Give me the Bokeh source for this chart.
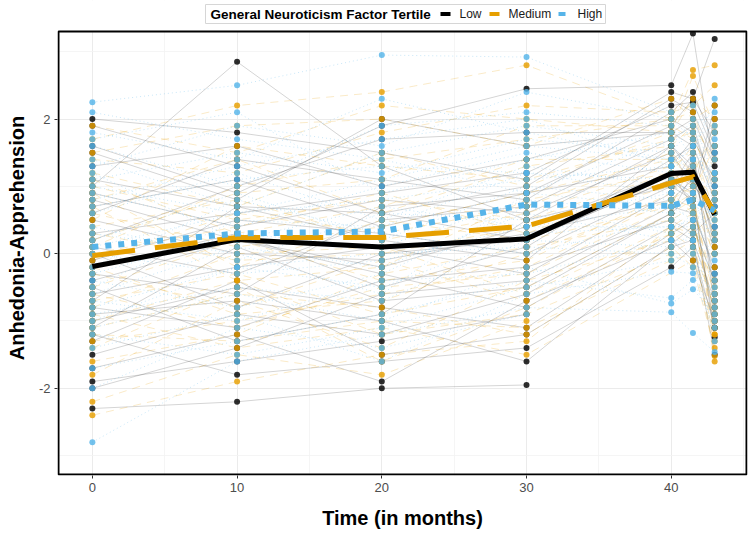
from bokeh.plotting import figure
from bokeh.models import FixedTicker, Range1d
from bokeh.core.properties import value
from bokeh.embed import file_html
from bokeh.resources import INLINE

# ---------------- data ----------------
times = [0, 10, 20, 30, 40, 41.5, 43]
tertiles = ["Low", "Medium", "High"]
legend_title = "General Neuroticism Factor Tertile"
x_label = "Time (in months)"
y_label = "Anhedonia-Apprehension"

# individual trajectories (one list per participant, values at `times`)
low_subjects = [
    [1.6, 0.9, 1.9, 2.45, 2.5, 3.27, 1.2],
    [-0.2, 0.3, -0.5, 0.1, 1.4, 1.6, -0.8],
    [0.7, 1.1, 0.4, 0.9, 1.9, 2.3, 3.19],
    [-1.5, -0.9, -1.2, -0.6, 0.6, 0.9, -1.24],
    [-2.3, -2.2, -2.0, -1.95, None, None, None],
    [1.0, 2.85, 1.3, 0.5, 1.6, 1.2, 0.4],
    [-0.6, -0.2, 0.1, -0.3, 0.9, 1.4, 0.1],
    [0.3, 0.6, 0.9, 1.2, 2.2, 2.25, 1.5],
    [-1.0, -0.5, -0.8, -1.1, 0.3, 0.5, -0.9],
    [1.9, 1.3, 0.6, 0.2, 1.1, 0.8, 2.0],
    [-1.9, -1.6, -1.3, -0.9, None, None, None],
    [0.1, -0.3, 0.5, 0.7, 1.7, 1.9, 0.9],
    [-0.4, 0.2, -0.2, 0.4, 1.2, 0.7, -0.3],
    [1.3, 1.6, 1.0, 1.4, 2.0, 1.8, 1.0],
    [-1.2, -1.8, -1.6, -1.4, -0.2, 0.1, -1.1],
    [0.5, 0.0, -0.1, 0.3, 0.8, 1.1, 0.3],
    [-0.8, -1.1, -0.4, -0.2, 0.5, 0.3, 0.6],
    [2.0, 1.8, 1.5, 1.1, 2.4, 2.3, 1.8],
    [-0.1, 0.5, 0.3, 0.0, 1.0, 1.5, -0.6],
    [-1.7, -1.2, -1.9, -0.7, 0.2, -0.1, -1.0],
    [0.9, 0.4, 0.8, 0.6, 1.5, 1.0, 0.7],
    [-0.9, -0.7, -1.0, -1.6, None, 0.4, -0.4],
    [0.2, 1.0, 1.7, 1.8, 1.8, 2.0, 1.3],
    [-2.0, -1.4, -0.6, -0.4, 0.7, 0.6, -0.2],
    [0.8, 0.2, -0.3, -0.8, 0.4, 0.2, -1.5],
    [-0.3, -0.6, 0.7, 0.9, 1.3, 1.7, 1.1],
    [1.1, 0.7, 0.2, -0.1, 1.6, 1.3, 0.2],
    [-1.3, -0.4, -1.5, -1.2, 0.1, 0.2, -0.7],
    [0.6, 1.4, 1.1, 0.8, 2.1, 2.4, 1.6],
    [-0.5, -1.3, -0.9, 0.5, 1.0, 0.8, -1.1],
    [1.5, 0.8, 2.0, 1.6, 1.8, 1.6, 0.8],
    [-1.1, 0.1, -0.7, -0.5, 0.6, 1.2, 0.0],
    [0.0, -0.8, 0.0, 0.2, 1.1, 0.9, 2.2],
    [-0.7, 0.7, 0.6, 1.0, 2.3, 2.1, 1.4],
]
medium_subjects = [
    [-2.4, -1.9, -1.5, -1.3, 0.4, 0.3, -1.6],
    [1.7, 2.2, 2.4, 2.8, 2.0, 2.73, 2.8],
    [0.4, 0.8, 0.2, 0.6, 1.3, 1.5, 0.5],
    [-0.7, -0.3, -0.9, -0.5, 0.6, 0.8, -0.7],
    [1.2, 0.7, 1.5, 1.0, 1.8, 2.64, 1.9],
    [-1.3, -1.0, -0.6, -0.2, 0.8, 1.0, -1.52],
    [0.0, 0.4, 0.9, 0.3, 1.1, 1.3, 0.2],
    [-2.2, -1.5, -1.8, -1.0, None, None, None],
    [0.8, 1.4, 0.6, 1.3, 1.6, 1.9, 1.4],
    [-0.3, -0.8, -0.1, -0.7, 0.3, 0.5, -0.9],
    [1.5, 1.9, 2.0, 1.6, 2.3, 2.0, 2.2],
    [-1.0, -0.4, -1.2, -0.9, 0.0, 0.2, -0.4],
    [0.6, 0.1, 0.4, 0.9, 1.4, 1.1, 0.9],
    [-1.6, -1.2, -0.3, 0.1, 0.5, 0.7, 0.0],
    [0.2, 0.9, 1.1, 1.9, 1.9, 1.7, 1.1],
    [-0.5, 0.2, -0.4, -0.1, 0.9, 0.6, -1.2],
    [1.0, 0.5, 0.8, 0.5, 1.2, 1.6, 0.6],
    [-0.9, -1.4, -1.1, -1.5, None, -0.1, -1.3],
    [0.3, -0.1, 0.0, 0.4, 1.0, 0.9, 1.6],
    [-1.8, -0.7, -1.4, -0.4, 0.2, 0.4, -0.6],
    [1.4, 1.2, 1.8, 2.2, 2.1, 2.2, 2.5],
    [-0.1, 0.6, 0.3, 0.7, 1.5, 1.2, 0.3],
    [0.9, -0.2, 0.5, 0.2, 0.7, 1.4, -0.2],
    [-1.1, -0.6, -0.8, -1.2, 0.1, -0.2, -1.4],
    [0.5, 1.6, 1.3, 1.1, 1.7, 1.8, 0.8],
    [-0.6, -1.1, -0.5, -0.3, 0.7, 0.9, -1.0],
    [1.1, 0.3, 0.7, 1.4, 1.4, 1.2, 1.8],
    [-1.4, -0.5, -1.6, -0.8, 0.3, 0.1, -0.8],
    [0.1, 1.0, 1.4, 1.7, 2.0, 2.1, 1.2],
    [-0.2, -0.9, -0.7, 0.0, 0.8, 0.7, -0.5],
    [1.9, 1.5, 2.2, 2.0, 1.8, 2.3, 2.0],
    [-0.8, 0.0, 0.1, -0.6, 0.4, 0.6, -1.1],
    [0.7, -0.4, -0.2, 0.8, 1.2, 1.0, 0.1],
    [-1.2, -1.3, -1.0, -1.1, -0.1, 0.0, -1.2],
]
high_subjects = [
    [2.25, 2.5, 2.95, 2.92, 2.1, 2.2, 1.7],
    [-2.8, -1.6, -1.2, -0.8, -0.87, -1.18, -1.46],
    [0.1, 0.6, 0.8, 1.1, 1.3, 1.6, 0.9],
    [1.1, 1.5, 1.2, 1.7, 1.5, 1.9, 2.1],
    [-0.8, -0.2, -0.5, 0.3, 0.4, 0.5, -0.5],
    [1.6, 1.0, 1.9, 2.1, 1.9, 1.4, 1.2],
    [-1.4, -0.9, -1.6, -0.6, -0.27, -0.29, -1.0],
    [0.6, 1.2, 0.5, 1.3, 1.0, 1.2, 0.4],
    [-0.3, 0.3, 0.1, 0.8, 0.6, 0.9, 1.4],
    [2.1, 1.7, 1.4, 0.9, 1.7, 1.0, 0.0],
    [-1.7, -1.3, -0.9, -0.4, -0.66, -0.39, -1.1],
    [0.4, -0.1, 0.6, 0.5, 0.9, 1.3, 0.6],
    [-0.6, 0.1, -0.2, 0.6, 0.2, 0.0, -0.7],
    [1.3, 1.9, 1.6, 2.4, 2.0, 1.7, 1.9],
    [-1.1, -0.6, -1.0, -0.2, -0.74, -0.53, -0.9],
    [0.9, 0.4, 1.0, 1.5, 1.2, 0.8, 0.2],
    [-0.2, 0.8, 0.3, 0.0, 0.5, 0.7, -0.3],
    [1.8, 1.4, 2.3, 1.8, 1.4, 1.5, 2.3],
    [-0.9, -0.5, -0.7, 0.2, 0.1, 0.3, 0.8],
    [0.2, 0.9, 0.2, 1.0, 0.8, 1.1, 1.0],
    [-2.0, -1.1, -1.4, -0.9, None, None, None],
    [1.2, 0.2, 0.7, 0.4, 0.7, 0.2, 1.5],
    [-0.4, -0.8, -0.3, 0.7, 0.3, 0.6, -0.1],
    [0.7, 1.1, 1.3, 1.2, 1.1, 0.9, 0.5],
    [0.0, -0.3, -0.1, 0.4, 0.4, 0.4, -0.4],
    [1.4, 0.7, 1.5, 1.9, 1.6, 2.0, 1.1],
    [-0.5, 0.5, 0.4, 1.2, 0.9, 1.2, 0.3],
    [-1.2, -1.5, -1.1, -0.5, -0.1, 0.1, -1.3],
    [0.8, 1.3, 1.7, 2.0, 1.3, 1.4, 1.6],
    [-1.0, -0.2, 0.0, 0.1, 0.0, -0.2, -0.6],
    [1.7, 2.1, 0.9, 1.4, 1.8, 1.8, 0.7],
    [0.3, 0.0, -0.6, 0.9, 0.7, 0.5, 1.2],
    [-0.7, -1.0, -0.4, -0.3, 0.2, 0.2, -0.8],
    [1.0, 0.6, 1.1, 1.6, 1.4, 1.6, 1.8],
]

# group mean trajectories
mean_low = [-0.19, 0.21, 0.10, 0.22, 1.19, 1.21, 0.58]
mean_medium = [-0.03, 0.24, 0.24, 0.41, 1.05, 1.14, 0.61]
mean_high = [0.10, 0.30, 0.33, 0.73, 0.71, 0.80, 0.64]

x_ticks = [0, 10, 20, 30, 40]
x_minor = [5, 15, 25, 35, 45]
y_ticks = [-2, 0, 2]
y_minor = [-3, -1, 1, 3]
y_tick_labels = {-2: "-2", 0: "0", 2: "2"}

# ---------------- styles / layout ----------------
colors = {"Low": "#000000", "Medium": "#E69F00", "High": "#56B4E9"}
indiv_dash = {"Low": "solid", "Medium": "8 6", "High": "1 3"}
indiv_alpha = {"Low": 0.17, "Medium": 0.22, "High": 0.32}
mean_dash = {"Low": "solid", "Medium": "43 20", "High": "6 7"}
mean_width = {"Low": 5, "Medium": 5, "High": 6}
FONT = "Liberation Sans"

X0, X1, Y0, Y1 = -2.34, 45.2, -3.28, 3.30       # panel limits
W, H = 750, 533
B_TOP, B_BOTTOM, B_LEFT, B_RIGHT = 0, 58, 57, 3
FRAME_W = W - B_LEFT - B_RIGHT
FRAME_H = H - B_TOP - B_BOTTOM
PANEL_TOP = 31                                   # px of room above the panel for the legend
ppx = (FRAME_W - 2) / (X1 - X0)
ppy = (FRAME_H - PANEL_TOP - 1) / (Y1 - Y0)
XR = (X0 - 1 / ppx, X1 + 1 / ppx)
YR = (Y0 - 1 / ppy, Y1 + PANEL_TOP / ppy)


def sx(px):  # page pixel -> x data (legend placement only)
    return XR[0] + (px - B_LEFT) / ppx


def sy(py):  # page pixel -> y data (legend placement only)
    return YR[1] - (py - B_TOP) / ppy


subjects = {"Low": low_subjects, "Medium": medium_subjects, "High": high_subjects}
means = {"Low": mean_low, "Medium": mean_medium, "High": mean_high}

# ---------------- main plot ----------------
p = figure(width=W, height=H,
           x_range=Range1d(*XR), y_range=Range1d(*YR),
           output_backend="svg", toolbar_location=None,
           min_border_left=B_LEFT, min_border_right=B_RIGHT,
           min_border_top=B_TOP, min_border_bottom=B_BOTTOM)
p.background_fill_color = "white"
p.border_fill_color = "white"
p.outline_line_color = None

# individual lines
for g in tertiles:
    xs, ys = [], []
    for s in subjects[g]:
        pts = [(t, v) for t, v in zip(times, s) if v is not None]
        xs.append([t for t, _ in pts])
        ys.append([v for _, v in pts])
    p.multi_line(xs=xs, ys=ys, line_color=colors[g], line_alpha=indiv_alpha[g],
                 line_width=1, line_dash=indiv_dash[g])

# points
for g in tertiles:
    px, py = [], []
    for s in subjects[g]:
        for t, v in zip(times, s):
            if v is not None:
                px.append(t)
                py.append(v)
    p.scatter(px, py, size=6, fill_color=colors[g], line_color=None,
              fill_alpha=0.82)

# mean lines
for g in tertiles:
    p.line(times, means[g], line_color=colors[g], line_width=mean_width[g],
           line_dash=mean_dash[g], line_cap="butt", line_join="miter")

# white strip above the panel (hides grid lines there) and the panel border
p.quad(left=[XR[0]], right=[XR[1]], bottom=[Y1], top=[YR[1]],
       fill_color="white", line_color=None)
p.quad(left=[X0], right=[X1], bottom=[Y0], top=[Y1],
       fill_color=None, line_color="black", line_width=2)

p.xaxis.ticker = FixedTicker(ticks=x_ticks, minor_ticks=x_minor)
p.yaxis.ticker = FixedTicker(ticks=y_ticks, minor_ticks=y_minor)
p.yaxis.major_label_overrides = y_tick_labels
p.xaxis.axis_label = x_label
p.yaxis.axis_label = y_label
for ax in p.axis:
    ax.axis_line_color = None
    ax.major_tick_line_color = "#333333"
    ax.major_tick_out = 3
    ax.major_tick_in = 0
    ax.minor_tick_line_color = None
    ax.major_label_text_font = FONT
    ax.major_label_text_font_size = "13px"
    ax.major_label_text_color = "#4D4D4D"
    ax.axis_label_text_font = FONT
    ax.axis_label_text_font_style = "bold"
    ax.axis_label_text_font_size = "20px"
    ax.axis_label_text_color = "black"
p.xaxis.major_label_standoff = 3
p.xaxis.axis_label_standoff = 12
p.yaxis.major_label_standoff = 3
p.yaxis.axis_label_standoff = 8

for gr in (p.xgrid, p.ygrid):
    gr.grid_line_color = "#EBEBEB"
    gr.grid_line_width = 1
    gr.minor_grid_line_color = "#F3F3F3"
    gr.minor_grid_line_width = 0.8

# ---------------- legend (drawn in the white strip above the panel) ----------------
LEG_L, LEG_R, LEG_T, LEG_B, LEG_MID = 205, 605, 4, 23, 13.5
p.quad(left=[sx(LEG_L)], right=[sx(LEG_R)], bottom=[sy(LEG_B)], top=[sy(LEG_T)],
       fill_color="white", line_color="#D6D6D6", line_width=1)
p.text(x=[sx(210)], y=[sy(LEG_MID)], text=[legend_title], text_font=value(FONT),
       text_font_style="bold", text_font_size="13.5px", text_color="black",
       text_baseline="middle", text_align="left")
key_px = {"Low": (440, 450), "Medium": (489, 499), "High": (558, 565)}
label_px = {"Low": 459, "Medium": 508, "High": 577}
for g in tertiles:
    a, b = key_px[g]
    p.segment(x0=[sx(a)], y0=[sy(LEG_MID)], x1=[sx(b)], y1=[sy(LEG_MID)],
              line_color=colors[g], line_width=4, line_cap="butt")
    p.text(x=[sx(label_px[g])], y=[sy(LEG_MID)], text=[g], text_font=value(FONT),
           text_font_size="12px", text_color="#1A1A1A",
           text_baseline="middle", text_align="left")

open("out.html", "w").write(file_html(p, INLINE))
